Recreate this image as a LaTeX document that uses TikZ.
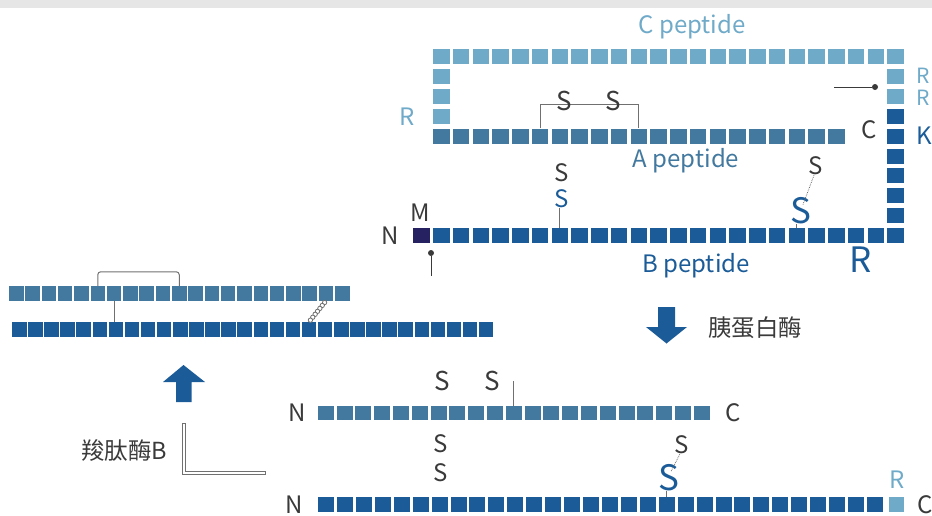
\documentclass[tikz,border=0pt]{standalone}
\usepackage{fontspec}
\setmainfont{Noto Sans CJK SC}
\usepackage{tikz}
\usetikzlibrary{positioning}
\usetikzlibrary{calc}

\definecolor{cpep}{HTML}{70AAC9}
\definecolor{apep}{HTML}{43799F}
\definecolor{bpep}{HTML}{1B5C98}
\definecolor{metcol}{HTML}{262262}
\definecolor{ink}{HTML}{3A3A3A}
\definecolor{bondcol}{HTML}{707070}
\definecolor{bandcol}{HTML}{E6E6E6}

\tikzset{
	res/.style={rectangle, inner sep=0, minimum width=16.5pt, minimum height=15pt},
	cres/.style={res, fill=cpep},
	ares/.style={res, fill=apep},
	bres/.style={res, fill=bpep},
	lbl/.style={inner sep=0, text=ink, font=\fontsize{24}{26}\selectfont},
	biglbl/.style={inner sep=0, text=bpep, font=\fontsize{35}{38}\selectfont},
	bond/.style={draw=bondcol, line width=1pt},
	pindot/.style={circle, fill=ink, inner sep=0, minimum size=6pt},
}

\begin{document}
\begin{tikzpicture}[x=1pt, y=-1pt]

	\useasboundingbox (0,0) rectangle (932,515);
	\fill[bandcol] (0,0) rectangle (932,7.5);

	%%%%%%%%%%%%%%%%%%%%%%%%%%%%%%%%%%%%%%%%%%%%%%%%%%%%%%%%%
	% proinsulin (top right)
	%%%%%%%%%%%%%%%%%%%%%%%%%%%%%%%%%%%%%%%%%%%%%%%%%%%%%%%%%

	% C peptide: top row, left and right columns
	\foreach \i in {0,...,23}
		\node[cres] (c\i) at ({441.25+19.75*\i}, 56.5) {};
	\foreach \j in {1,2,3}
		\node[cres] (cl\j) at (441.25, {56.5+19.9*\j}) {};
	\foreach \j in {1,2}
		\node[cres] (cr\j) at (895.5, {56.5+19.9*\j}) {};
	\foreach \j in {3,...,8}
		\node[bres] (cr\j) at (895.5, {56.5+19.9*\j}) {};

	% A chain and B chain
	\foreach \i in {0,...,20}
		\node[ares] (a\i) at ({441.25+19.75*\i}, 136.1) {};
	\foreach \i in {0,...,23}
		\node[bres] (b\i) at ({441.25+19.75*\i}, 235.6) {};
	\node[res, fill=metcol] (met) at (421.5, 235.6) {};

	% labels
	\node[lbl, text=cpep, anchor=base] (cname) at (692, 33) {C peptide};
	\node[lbl, text=apep, anchor=base] (aname) at (686, 167) {A peptide};
	\node[lbl, text=bpep, anchor=base] (bname) at (696, 272) {B peptide};
	\node[lbl, text=cpep] (rl) at (407, 117) {R};
	\node[lbl, text=cpep, anchor=west, font=\fontsize{21}{23}\selectfont] (rr1) at (916, 75.5) {R};
	\node[lbl, text=cpep, anchor=west, font=\fontsize{21}{23}\selectfont] (rr2) at (916, 97.5) {R};
	\node[lbl, text=bpep, anchor=west] (kr) at (916, 136) {K};
	\node[lbl] (cend) at (869, 130) {C};
	\node[lbl] (nend) at (390, 235.6) {N};
	\node[lbl] (mlbl) at (420, 213) {M};
	\node[biglbl, anchor=base] (rbig) at (861, 272) {R};

	% intra-chain S-S on A
	\draw[bond] (a5.north) -- ++(0,-24) -| (a10.north);
	\node[lbl, font=\fontsize{26}{28}\selectfont] (sa1) at (564, 101) {S};
	\node[lbl, font=\fontsize{26}{28}\selectfont] (sa2) at (613, 101) {S};

	% inter-chain S-S
	\node[lbl] (sx1) at (562, 173) {S};
	\node[lbl, text=bpep] (sb1) at (562, 199) {S};
	\draw[bond] (b6.north) -- (b6.north |- sb1.south);
	\node[lbl] (sx2) at (816, 166) {S};
	\node[biglbl] (sb2) at (801, 211) {S};
	\draw[bond, line width=0.8pt, densely dotted] ([xshift=-2pt]sx2.south) -- ([xshift=2pt,yshift=-7pt]sb2.north);
	\draw[bond] (b18.north) -- (b18.north |- sb2.south);

	% pins
	\coordinate (pinA) at (834, 87);
	\node[pindot] (pinB) at (875, 87) {};
	\draw[ink, line width=1pt] (pinA) -- (pinB);
	\node[pindot] (pinC) at (431, 253) {};
	\coordinate (pinD) at (431, 276);
	\draw[ink, line width=1pt] (pinC) -- (pinD);

	%%%%%%%%%%%%%%%%%%%%%%%%%%%%%%%%%%%%%%%%%%%%%%%%%%%%%%%%%
	% trypsin step
	%%%%%%%%%%%%%%%%%%%%%%%%%%%%%%%%%%%%%%%%%%%%%%%%%%%%%%%%%
	\fill[bpep] (658,307) -- (675,307) -- (675,327) -- (687,327)
		-- (666.5,343.5) -- (646,327) -- (658,327) -- cycle;
	\node[lbl, font=\fontsize{23.5}{25}\selectfont] (tryp) at (755, 328) {胰蛋白酶};

	% split A chain
	\foreach \i in {0,...,20}
		\node[ares, minimum width=16pt, minimum height=14.5pt] (ma\i) at ({325.7+18.8*\i}, 413) {};
	\node[lbl] (man) at (297, 413) {N};
	\node[lbl] (mac) at (733, 413) {C};
	\node[lbl, font=\fontsize{26}{28}\selectfont] (msa1) at (442.7, 381) {S};
	\node[lbl, font=\fontsize{26}{28}\selectfont] (msa2) at (492, 381) {S};
	\draw[bond] (ma10.north) -- ++(0,-25);

	% split B chain
	\foreach \i in {0,...,29}
		\node[bres, minimum width=16pt] (mb\i) at ({326+18.93*\i}, 504.5) {};
	\node[cres, minimum width=15pt] (mbr) at (896.8, 504.5) {};
	\node[lbl] (mbn) at (294, 505) {N};
	\node[lbl] (mbc) at (925, 505) {C};
	\node[lbl, text=cpep] (mbrl) at (896.7, 480) {R};
	\node[lbl] (msb1) at (441, 444) {S};
	\node[lbl] (msb2) at (441, 473) {S};
	\node[lbl] (msx) at (681.7, 445) {S};
	\node[biglbl] (msb) at (669, 478) {S};
	\draw[bond, line width=0.8pt, densely dotted] ([xshift=-2pt]msx.south) -- ([xshift=2pt,yshift=-7pt]msb.north);
	\draw[bond] (mb18.north) -- (mb18.north |- msb.south);

	%%%%%%%%%%%%%%%%%%%%%%%%%%%%%%%%%%%%%%%%%%%%%%%%%%%%%%%%%
	% carboxypeptidase B step
	%%%%%%%%%%%%%%%%%%%%%%%%%%%%%%%%%%%%%%%%%%%%%%%%%%%%%%%%%
	\draw[bondcol, line width=0.7pt, fill=white] (182.5,423) -- (185.5,423) -- (185.5,471)
		-- (265,471) -- (265,474) -- (182.5,474) -- cycle;
	\node[lbl, font=\fontsize{23.5}{25}\selectfont] (cpb) at (124, 450) {羧肽酶B};
	\fill[bpep] (176,402) -- (191.5,402) -- (191.5,382) -- (205,382)
		-- (183.5,365) -- (163,382) -- (176,382) -- cycle;

	% insulin (left)
	\foreach \i in {0,...,20}
		\node[ares, minimum width=14.5pt, minimum height=14.7pt] (la\i) at ({16.25+16.3*\i}, 293.3) {};
	\foreach \i in {0,...,29}
		\node[bres, minimum width=14.5pt, minimum height=14.5pt] (lb\i) at ({19.25+16.1*\i}, 329.3) {};
	\draw[bond, rounded corners=3pt] (la5.north) -- ++(0,-14) -| (la10.north);
	\draw[bond] (la6.south) -- (la6.south |- lb6.north);
	% coiled link
	\foreach \t in {0.08,0.22,...,0.95}
		\draw[bondcol, line width=0.8pt, fill=white] ($(la19.south)!\t!(lb18.north)$) circle (2.2pt);

\end{tikzpicture}
\end{document}
